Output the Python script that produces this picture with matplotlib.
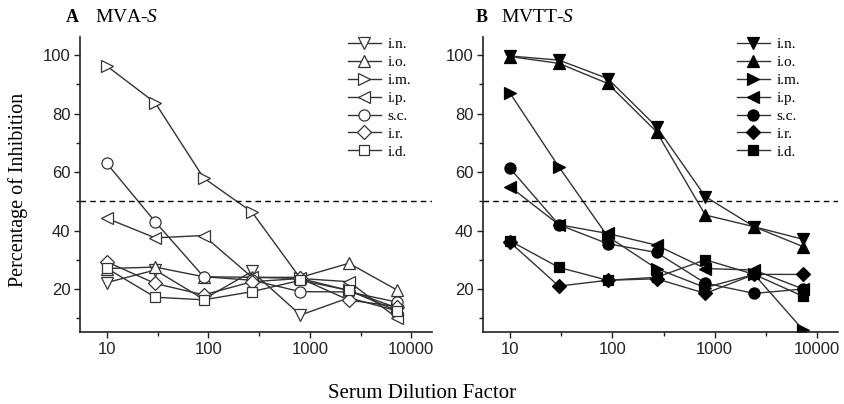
import matplotlib
matplotlib.use("Agg")
import matplotlib.pyplot as plt
import numpy as np
from matplotlib.ticker import FixedLocator, NullFormatter

plt.rcParams["mathtext.fontset"] = "custom"
plt.rcParams["mathtext.it"] = "Liberation Serif:italic"
plt.rcParams["mathtext.rm"] = "Liberation Serif"

dilutions = [10, 30, 90, 270, 810, 2430, 7290]
routes = ["i.n.", "i.o.", "i.m.", "i.p.", "s.c.", "i.r.", "i.d."]
markers = ["v", "^", ">", "<", "o", "D", "s"]

mva_in = [22.2, 26.5, 16.5, 26.0, 11.1, 17.0, 12.5]
mva_io = [27.0, 27.5, 24.2, 24.0, 24.0, 28.8, 19.6]
mva_im = [96.3, 83.7, 58.0, 46.3, 23.6, 19.5, 13.5]
mva_ip = [44.2, 37.5, 38.3, 24.0, 23.6, 22.5, 10.0]
mva_sc = [63.0, 43.0, 24.2, 23.0, 19.1, 19.0, 15.5]
mva_ir = [29.3, 21.9, 18.0, 22.5, 23.6, 16.2, 14.0]
mva_id = [27.1, 17.2, 16.3, 19.1, 23.0, 19.5, 12.5]

mvtt_in = [99.7, 98.3, 92.0, 75.5, 51.6, 41.3, 37.0]
mvtt_io = [99.5, 97.2, 90.3, 73.8, 45.3, 41.3, 34.5]
mvtt_im = [87.0, 61.8, 38.0, 27.0, 20.5, 25.0, 6.0]
mvtt_ip = [55.0, 42.0, 39.0, 35.0, 27.0, 26.5, 20.0]
mvtt_sc = [61.3, 42.0, 35.5, 32.5, 22.0, 18.5, 20.0]
mvtt_ir = [36.0, 21.0, 23.0, 23.5, 18.5, 25.0, 25.0]
mvtt_id = [36.5, 27.4, 23.0, 24.0, 30.0, 25.0, 17.5]

mva = [mva_in, mva_io, mva_im, mva_ip, mva_sc, mva_ir, mva_id]
mvtt = [mvtt_in, mvtt_io, mvtt_im, mvtt_ip, mvtt_sc, mvtt_ir, mvtt_id]

xticks = [10, 100, 1000, 10000]
xticklabels = ["10", "100", "1000", "10000"]
yticks = [20, 40, 60, 80, 100]

W, H = 844, 404
fig = plt.figure(figsize=(W / 100, H / 100), dpi=100)

serif = "Liberation Serif"
sans = "Liberation Sans"

def make_ax(left_px, right_px, data, filled, legend_x):
    ax = fig.add_axes([left_px / W, 1 - 332 / H, (right_px - left_px) / W, (332 - 37) / H])
    for vals, m, lab in zip(data, markers, routes):
        ms = 8
        if m in ("D", "s"):
            ms = 7
        ax.plot(dilutions, vals, color="#333333", lw=1.0, marker=m, ms=ms,
                mfc=("black" if filled else "white"), mec=("black" if filled else "#333333"),
                mew=0.9, label=lab)
    ax.axhline(50, color="black", lw=1.0, ls=(0, (4, 3)))
    ax.set_xscale("log")
    ax.set_xlim(5.45, 16000)
    ax.set_ylim(5.3, 106.2)
    ax.xaxis.set_major_locator(FixedLocator(xticks))
    ax.set_xticklabels(xticklabels)
    ax.xaxis.set_minor_locator(FixedLocator([10 ** 1.5, 10 ** 2.5, 10 ** 3.5]))
    ax.xaxis.set_minor_formatter(NullFormatter())
    ax.yaxis.set_major_locator(FixedLocator(yticks))
    ax.yaxis.set_minor_locator(FixedLocator([10, 30, 50, 70, 90]))
    ax.yaxis.set_minor_formatter(NullFormatter())
    for s in ["top", "right"]:
        ax.spines[s].set_visible(False)
    for s in ["left", "bottom"]:
        ax.spines[s].set_linewidth(1.2)
        ax.spines[s].set_color("#222222")
    ax.tick_params(which="both", direction="out", width=1.0, color="#222222")
    ax.tick_params(which="major", length=4, labelsize=12, pad=3)
    ax.tick_params(which="minor", length=3)
    for t in ax.get_xticklabels() + ax.get_yticklabels():
        t.set_fontfamily(sans)
        t.set_color("#222222")
    ax.legend(loc="upper left", bbox_to_anchor=((legend_x - left_px) / (right_px - left_px), 1.025),
              frameon=False, prop={"family": serif, "size": 11},
              handlelength=2.2, handletextpad=0.4, labelspacing=0.28, borderpad=0)
    return ax

ax1 = make_ax(80, 432, mva, False, 340)
ax2 = make_ax(483, 838, mvtt, True, 729)

fig.text(66 / W, 1 - 18 / H, "A", fontfamily=serif, fontweight="bold", fontsize=13, va="center")
fig.text(95 / W, 1 - 18 / H, "MVA-$\\it{S}$", fontfamily=serif, fontsize=14, va="center")
fig.text(476 / W, 1 - 18 / H, "B", fontfamily=serif, fontweight="bold", fontsize=13, va="center")
fig.text(501 / W, 1 - 18 / H, "MVTT-$\\it{S}$", fontfamily=serif, fontsize=14, va="center")

fig.text(18 / W, 1 - 190 / H, "Percentage of Inhibition", fontfamily=serif, fontsize=14.5,
         rotation=90, va="center", ha="center")
fig.text(422 / W, 1 - 393 / H, "Serum Dilution Factor", fontfamily=serif, fontsize=15,
         va="center", ha="center")

fig.savefig("out.png", dpi=100)
